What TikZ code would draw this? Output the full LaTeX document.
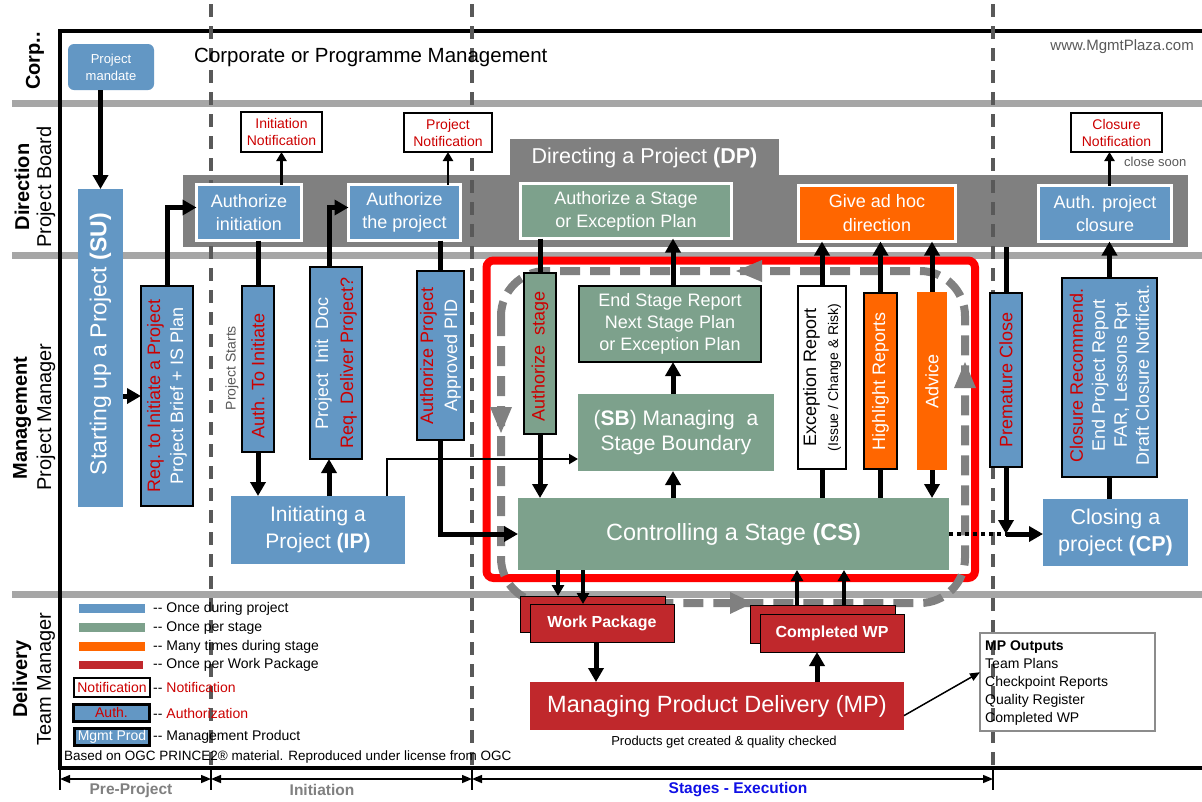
\documentclass[tikz,border=0pt]{standalone}
\usepackage{fontspec}
\setmainfont{Liberation Sans}
\usetikzlibrary{arrows.meta,calc}
\definecolor{cblue}{RGB}{99,151,196}
\definecolor{cgreen}{RGB}{125,161,140}
\definecolor{corange}{RGB}{255,102,0}
\definecolor{cwp}{RGB}{192,40,44}
\definecolor{cdp}{RGB}{128,128,128}
\definecolor{csep}{RGB}{166,166,166}
\definecolor{cdash}{RGB}{89,89,89}
\definecolor{tred}{RGB}{204,0,0}
\definecolor{tgray}{RGB}{89,89,89}
\definecolor{cstage}{RGB}{16,16,230}
\definecolor{cout}{RGB}{140,140,140}
\newcommand\fz[2]{\fontsize{#1pt}{#2pt}\selectfont}
\newcommand\dd{-{}-}
\tikzset{
  bx/.style={rectangle, inner sep=0pt, outer sep=0pt, align=center},
  sz/.style 2 args={minimum width=#1pt, minimum height=#2pt},
  blu/.style={bx, fill=cblue, text=white},
  grn/.style={bx, fill=cgreen, text=white},
  org/.style={bx, fill=corange, text=white},
  wpr/.style={bx, fill=cwp, text=white},
  wb/.style={draw=white, line width=3pt},
  bb/.style={draw=black, line width=2.5pt},
  note/.style={bx, fill=white, draw=black, line width=2.5pt, text=tred, font=\fz{14}{17}},
  vt/.style={rotate=90, align=center, inner sep=0pt},
  lane/.style={rotate=90, inner sep=0pt, font=\fz{20}{24}},
  leg/.style={anchor=west, inner sep=0pt, font=\fz{14}{17}},
  bigl/.style={line width=5pt},
  bigarr/.style={line width=5pt, -{Triangle[length=14pt,width=15pt]}},
  midarr/.style={line width=4pt, -{Triangle[length=11pt,width=12pt]}},
  medarr/.style={line width=2.5pt, -{Triangle[length=9pt,width=10pt]}},
  thinarr/.style={line width=2pt, -{Triangle[length=9pt,width=10pt]}},
  hairarr/.style={line width=1.5pt, -{Triangle[length=10pt,width=8pt]}},
  ph/.style={line width=1.5pt, {Triangle[length=10pt,width=8pt]}-{Triangle[length=10pt,width=8pt]}},
  phl/.style={font=\fz{15.5}{18}\bfseries, inner sep=0pt}
}
\begin{document}
\begin{tikzpicture}[x=1pt,y=-1pt]
\path[fill=white, use as bounding box] (0,0) rectangle (1202,801);
% lane separators
\foreach \yy in {103,255,594} {\draw[csep, line width=7pt] (12,\yy) -- (1202,\yy);}
% frame
\draw[line width=4pt] (1202,31) -- (60,31) -- (60,768) -- (1202,768);
% DP band
\node[bx, fill=cdp, sz={1005}{72}] (dpband) at (685.5,211) {};
\node[bx, fill=cdp, sz={269}{37}, text=white, font=\fz{21.5}{25}] (dptab) at (644.5,157.5) {Directing a Project \textbf{(DP)}};
% dashed verticals
\foreach \xx in {211,472,993} {\draw[cdash, line width=3.5pt, dash pattern=on 13pt off 9pt] (\xx,4) -- (\xx,768);}
% phase ticks and arrows
\foreach \xx in {60,211,472,993} {\draw[line width=2.5pt] (\xx,768) -- (\xx,790);}
\coordinate (p0) at (60,779);
\coordinate (p1) at (211,779);
\coordinate (p2) at (472,779);
\coordinate (p3) at (993,779);
\draw[ph] (p0) -- (p1);
\draw[ph] (p1) -- (p2);
\draw[ph] (p2) -- (p3);
\node[phl, text=cdp] (lpre) at (131,790) {Pre-Project};
\node[phl, text=cdp] (lini) at (322,790) {Initiation};
\node[phl, text=cstage] (lstg) at (738,790) {Stages - Execution};
% lane labels
\node[lane, font=\fz{20}{24}\bfseries] (lcorp) at (35,61) {Corp..};
\node[lane, font=\fz{20}{24}\bfseries] (ldir) at (22,187) {Direction};
\node[lane] (ldir2) at (46,187) {Project Board};
\node[lane, font=\fz{20}{24}\bfseries] (lman) at (22,418) {Management};
\node[lane] (lman2) at (46,417) {Project Manager};
\node[lane, font=\fz{20}{24}\bfseries] (ldel) at (22,679) {Delivery};
\node[lane] (ldel2) at (46,679) {Team Manager};
% stage box and loop
\draw[red, line width=8pt, rounded corners=7pt] (486.5,260.5) rectangle (975,578);
\draw[cdp, line width=8pt, rounded corners=45pt, dash pattern=on 20pt off 10pt] (501,271) rectangle (965,603);
\fill[cdp] (490,407) -- (512,407) -- (501,433) -- cycle;
\fill[cdp] (954,388) -- (976,388) -- (965,362) -- cycle;
\fill[cdp] (762,260) -- (762,282) -- (736,271) -- cycle;
\fill[cdp] (730,592) -- (730,614) -- (753,603) -- cycle;
% corporate lane
\node[blu, rounded corners=6pt, sz={86}{46}, font=\fz{13}{17}] (mandate) at (111,67) {Project\\mandate};
\node[anchor=west, inner sep=0pt, font=\fz{20.5}{24}] (corp) at (194,57) {Corporate or Programme Management};
\node[anchor=east, inner sep=0pt, font=\fz{15}{18}, text=tgray] (www) at (1194,47) {www.MgmtPlaza.com};
% direction boxes
\node[blu, wb, sz={105}{56}, font=\fz{18}{23}] (authinit) at (249,212.5) {Authorize\\initiation};
\node[blu, wb, sz={112}{56}, font=\fz{18}{23}] (authproj) at (404.5,212.5) {Authorize\\the project};
\node[grn, wb, sz={211}{55}, font=\fz{18}{23}] (authstage) at (626,211) {Authorize a Stage\\or Exception Plan};
\node[org, wb, sz={157}{56}, font=\fz{18}{24}] (adhoc) at (877,213.5) {Give ad hoc\\direction};
\node[blu, wb, sz={133}{56}, font=\fz{18}{23}] (authclose) at (1105,213.5) {Auth. project\\closure};
\node[note, sz={81}{40}] (initnote) at (281.5,132) {Initiation\\Notification};
\node[note, sz={88}{39}] (projnote) at (448,132.5) {Project\\Notification};
\node[note, sz={91}{39}] (closenote) at (1116.5,132.5) {Closure\\Notification};
\node[anchor=west, inner sep=0pt, font=\fz{13}{16}, text=tgray] (closesoon) at (1124,162) {close soon};
% management lane
\node[blu, sz={45}{318}] (su) at (100.5,348) {};
\node[vt, text=white, font=\fz{23}{27}] (sut) at (100.5,344) {Starting up a Project \textbf{(SU)}};
\node[blu, bb, sz={52}{220}] (req) at (167,396) {};
\node[vt, text=white, font=\fz{18}{23}] (reqt) at (req) {\textcolor{tred}{Req. to Initiate a Project}\\Project Brief + IS Plan};
\node[blu, bb, sz={32}{166}] (ati) at (258,369) {};
\node[vt, text=tred, font=\fz{18}{22}] (atit) at (258,376) {Auth. To Initiate};
\node[vt, text=tgray, font=\fz{14}{17}] (pstarts) at (232,368) {Project Starts};
\node[blu, bb, sz={52}{192}] (pid) at (336,363) {};
\node[vt, text=white, font=\fz{18}{25}] (pidt) at (pid) {Project\ \ Init\ \ Doc\\\textcolor{tred}{Req. Deliver Project?}};
\node[blu, bb, sz={47}{169}] (apid) at (440.5,355.5) {};
\node[vt, text=white, font=\fz{18}{24}] (apidt) at (apid) {\textcolor{tred}{Authorize Project}\\Approved PID};
\node[blu, sz={174}{68}, font=\fz{21}{27}] (ip) at (318,530) {Initiating a\\Project \textbf{(IP)}};
% stage area
\node[grn, bb, sz={32}{161}] (astg) at (540,353.5) {};
\node[vt, text=tred, font=\fz{18}{22}] (astgt) at (540,356) {Authorize\ \ stage};
\node[grn, bb, sz={182}{76}, font=\fz{18}{22}] (esr) at (670,324) {End Stage Report\\Next Stage Plan\\or Exception Plan};
\node[grn, sz={196}{77}, font=\fz{21}{25}] (sb) at (676,432.5) {(\textbf{SB}) Managing\ \ a\\Stage Boundary};
\node[grn, sz={431}{72}, font=\fz{23.5}{27}] (cs) at (733.5,534) {Controlling a Stage \textbf{(CS)}};
\node[bx, fill=white, bb, sz={48}{183}] (exc) at (822,377.5) {};
\node[vt, font=\fz{18}{22}] (exct) at (exc) {Exception Report\\{\fz{14}{22}(Issue / Change \& Risk)}};
\node[org, bb, sz={33}{176}] (hl) at (880.5,381) {};
\node[vt, text=white, font=\fz{18}{22}] (hlt) at (hl) {Highlight Reports};
\node[org, sz={30}{178}] (adv) at (932,381) {};
\node[vt, text=white, font=\fz{18}{22}] (advt) at (adv) {Advice};
\node[blu, bb, sz={32}{174}] (prem) at (1006,380) {};
\node[vt, text=tred, font=\fz{18}{22}] (premt) at (prem) {Premature Close};
\node[blu, bb, sz={95}{199}] (crec) at (1109.5,377.5) {};
\node[vt, text=white, font=\fz{18}{22}] (crect) at (1109.5,375) {\textcolor{tred}{Closure Recommend.}\\End Project Report\\FAR, Lessons Rpt\\Draft Closure Notificat.};
\node[blu, sz={145}{67}, font=\fz{21.5}{27}] (cp) at (1115.5,532.5) {Closing a\\project \textbf{(CP)}};
% delivery lane
\node[wpr, draw=black, line width=1pt, sz={145}{36}] (wpb) at (592.5,614) {};
\node[wpr, draw=black, line width=1pt, sz={144}{38}, font=\fz{16}{19}\bfseries] (wp) at (602,623) {Work Package};
\node[wpr, draw=black, line width=1pt, sz={145}{38}] (cwpb) at (822.5,624) {};
\node[wpr, draw=black, line width=1pt, sz={144}{38}, font=\fz{16}{19}\bfseries] (cwp) at (832,633) {Completed WP};
\node[wpr, sz={374}{48}, font=\fz{23.5}{27}] (mp) at (717,706) {Managing Product Delivery (MP)};
\node[inner sep=0pt, font=\fz{13}{16}] (mpnote) at (724,742) {Products get created \& quality checked};
\node[bx, draw=cout, line width=2.5pt, sz={175}{98}] (mpout) at (1067.5,682) {};
\node[anchor=north west, align=left, inner sep=0pt, font=\fz{14}{18}] (mpoutt) at (985,641) {\textbf{MP Outputs}\\Team Plans\\Checkpoint Reports\\Quality Register\\Completed WP};
% legend
\fill[cblue] (79,604) rectangle (145,613);
\fill[cgreen] (79,623) rectangle (145,632);
\fill[corange] (79,642) rectangle (145,651);
\fill[cwp] (79,661) rectangle (143,669);
\node[leg] (lg1) at (153,609) {\dd{} Once during project};
\node[leg] (lg2) at (153,628) {\dd{} Once per stage};
\node[leg] (lg3) at (153,647) {\dd{} Many times during stage};
\node[leg] (lg4) at (153,665) {\dd{} Once per Work Package};
\node[bx, fill=white, draw=black, line width=2.5pt, sz={76}{19}, text=tred, font=\fz{14}{17}] (lgn) at (112,687.5) {Notification};
\node[leg] (lg5) at (153,687) {\dd{} \textcolor{tred}{Notification}};
\node[bx, fill=cblue, draw=black, line width=3pt, sz={76}{17}, text=tred, font=\fz{14}{17}] (lga) at (111.5,712.5) {Auth.};
\node[leg] (lg6) at (153,713) {\dd{} \textcolor{tred}{Authorization}};
\node[bx, fill=cblue, draw=black, line width=3pt, sz={75}{17}, text=white, font=\fz{14}{17}] (lgm) at (112,737) {Mgmt Prod};
\node[leg] (lg7) at (153,737) {\dd{} Management Product};
\node[anchor=west, inner sep=0pt, font=\fz{13.5}{16}] (based) at (64,757) {Based on OGC PRINCE2® material. Reproduced under license from OGC};
% helper columns
\coordinate (pidx) at ($(pid.south)+(-7,0)$);
\coordinate (ipx) at ($(ip.north)+(69,0)$);
\coordinate (sbin) at ($(sb.south west)+(0,-12)$);
\coordinate (col) at (673,300);
\coordinate (w1) at (558,580);
\coordinate (w2) at (583,580);
\coordinate (w3) at (596,660);
\coordinate (w4) at (817,660);
\coordinate (w5) at (797,590);
\coordinate (w6) at (844,590);
% connectors
\draw[bigarr] (mandate.south -| su.north) -- (su.north);
\draw[bigarr] (req.west -| su.east) -- (req.west);
\draw[bigarr] (req.north) |- ($(authinit.west)+(0,-5)$);
\draw[bigl] (ati.north |- authinit.south) -- (ati.north);
\draw[bigarr] (ati.south) -- (ati.south |- ip.north);
\draw[medarr] (initnote.south |- authinit.north) -- (initnote.south);
\draw[bigarr] (pidx |- ip.north) -- (pidx);
\draw[bigarr] (pidx |- pid.north) |- ($(authproj.west)+(0,-5)$);
\draw[bigl] (apid.north |- authproj.south) -- (apid.north);
\draw[medarr] (projnote.south |- authproj.north) -- (projnote.south);
\draw[bigarr] (apid.south) |- (cs.west);
\draw[thinarr] (ipx) |- (sbin);
\draw[bigl] (astg.north |- authstage.south) -- (astg.north);
\draw[bigarr] (astg.south) -- (astg.south |- cs.north);
\draw[bigarr] (col |- esr.north) -- (col |- authstage.south);
\draw[bigarr] (col |- sb.north) -- (col |- esr.south);
\draw[bigarr] (col |- cs.north) -- (col |- sb.south);
\draw[bigarr] (exc.north) -- (exc.north |- adhoc.south);
\draw[bigl] (exc.south) -- (exc.south |- cs.north);
\draw[bigarr] (hl.north) -- (hl.north |- adhoc.south);
\draw[bigl] (hl.south) -- (hl.south |- cs.north);
\draw[bigarr] (adv.north) -- (adv.north |- adhoc.south);
\draw[bigarr] (adv.south) -- (adv.south |- cs.north);
\draw[bigl] (prem.north |- dpband.south) -- (prem.north);
\coordinate (dj) at (prem.south |- cs.east);
\draw[bigarr] (prem.south) -- (dj);
\draw[line width=4pt, dash pattern=on 4pt off 4pt] (cs.east) -- (dj);
\draw[bigarr] (dj) -- (cp.west |- dj);
\draw[bigarr] (crec.north) -- (crec.north |- authclose.south);
\draw[bigl] (crec.south |- cp.north) -- (crec.south);
\draw[medarr] (crec.north |- authclose.north) -- (crec.north |- closenote.south);
\draw[midarr] (w1 |- cs.south) -- (w1 |- wpb.north);
\draw[midarr] (w2 |- cs.south) -- (w2 |- wp.north);
\draw[bigarr] (w3 |- wp.south) -- (w3 |- mp.north);
\draw[bigarr] (w4 |- mp.north) -- (w4 |- cwp.south);
\draw[midarr] (w5 |- cwpb.north) -- (w5 |- cs.south);
\draw[midarr] (w6 |- cwpb.north) -- (w6 |- cs.south);
\draw[hairarr] ($(mp.north east)!0.7!(mp.south east)$) -- ($(mpout.north west)!0.4!(mpout.south west)$);
\end{tikzpicture}
\end{document}
